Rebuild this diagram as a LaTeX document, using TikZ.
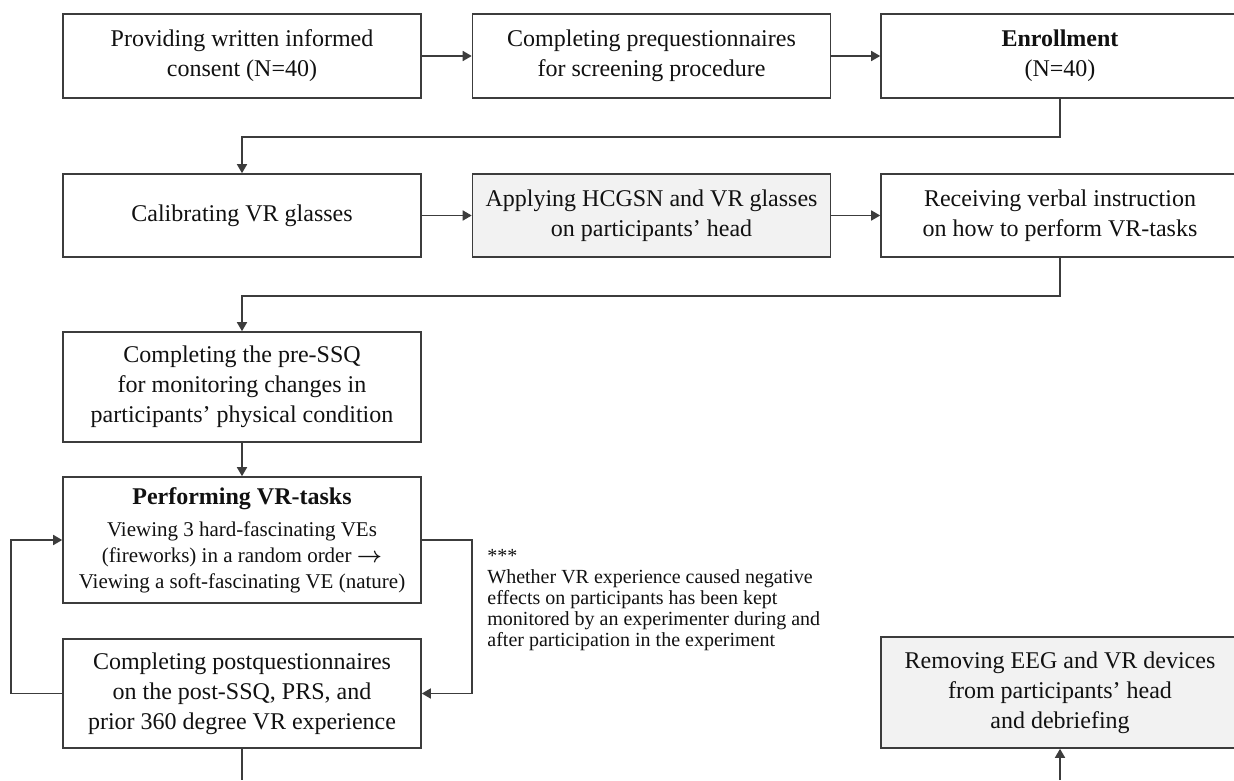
\documentclass[tikz,border=0pt]{standalone}
\usepackage{amsmath,amssymb}
\usepackage{fontspec}
\setmainfont{Liberation Serif}
\usepackage{xcolor}
\usepackage{tikz}
\usetikzlibrary{arrows.meta}
\definecolor{edge}{HTML}{3C3C3C}
\definecolor{shade}{HTML}{F2F2F2}
\definecolor{ink}{HTML}{111111}
\tikzset{
  stage/.style={draw=edge, line width=0.8pt, fill=white, text=ink, align=center, minimum width=179pt, inner sep=2pt, font=\fontsize{12}{15}\selectfont},
  stageg/.style={stage, fill=shade},
  flow/.style={draw=edge, line width=0.8pt, -{Triangle[length=4.5pt,width=5pt]}},
  link/.style={draw=edge, line width=0.8pt},
  note/.style={text=ink, align=left, anchor=north west, inner sep=0pt, font=\fontsize{10}{10.5}\selectfont},
}

\begin{document}
\begin{tikzpicture}[x=0.5pt,y=-0.5pt]
  \fill[white] (0,0) rectangle (1234,780);
  \useasboundingbox (0,0) rectangle (1234,780);
  % row 1
  \node[stage, minimum height=42pt] (consent) at (242,56) {Providing written informed\\consent (N=40)};
  \node[stage, minimum height=42pt] (prequest) at (651.5,56) {Completing prequestionnaires\\for screening procedure};
  \node[stage, minimum height=42pt] (enroll) at (1060,56) {\textbf{Enrollment}\\(N=40)};
  % row 2
  \node[stage, minimum height=41.5pt] (calib) at (242,215.5) {Calibrating VR glasses};
  \node[stageg, minimum height=41.5pt] (apply) at (651.5,215.5) {Applying HCGSN and VR glasses\\on participants’ head};
  \node[stage, minimum height=41.5pt] (instruct) at (1060,215.5) {Receiving verbal instruction\\on how to perform VR-tasks};
  % left column
  \node[stage, minimum height=55pt] (pressq) at (242,387) {Completing the pre-SSQ\\for monitoring changes in\\participants’ physical condition};
  \node[stage, minimum height=63pt, font=\fontsize{10.5}{13}\selectfont] (perform) at (242,540)
    {{\fontsize{12}{14}\selectfont\bfseries Performing VR-tasks}\\[3pt]Viewing 3 hard-fascinating VEs\\(fireworks) in a random order $\boldsymbol{\rightarrow}$\\Viewing a soft-fascinating VE (nature)};
  \node[stage, minimum height=54.5pt] (postq) at (242,693.5) {Completing postquestionnaires\\on the post-SSQ, PRS, and\\prior 360 degree VR experience};
  \node[stageg, minimum height=55.5pt] (remove) at (1060,692.5) {Removing EEG and VR devices\\from participants’ head\\and debriefing};
  \node[note] (monitor) at (487,549) {***\\Whether VR experience caused negative\\effects on participants has been kept\\monitored by an experimenter during and\\after participation in the experiment};
  \coordinate (outl) at (242,780);
  \coordinate (outr) at (1060,780);

  \draw[flow] (consent) -- (prequest);
  \draw[flow] (prequest) -- (enroll);
  \draw[flow] (enroll.south) -- ++(0,38) -| (calib.north);
  \draw[flow] (calib) -- (apply);
  \draw[flow] (apply) -- (instruct);
  \draw[flow] (instruct.south) -- ++(0,38) -| (pressq.north);
  \draw[flow] (pressq) -- (perform);
  \draw[flow] (perform.east) -- ++(50,0) |- (postq.east);
  \draw[flow] (postq.west) -- ++(-51,0) |- (perform.west);
  \draw[link] (postq.south) -- (outl);
  \draw[flow] (outr) -- (remove.south);
\end{tikzpicture}
\end{document}
